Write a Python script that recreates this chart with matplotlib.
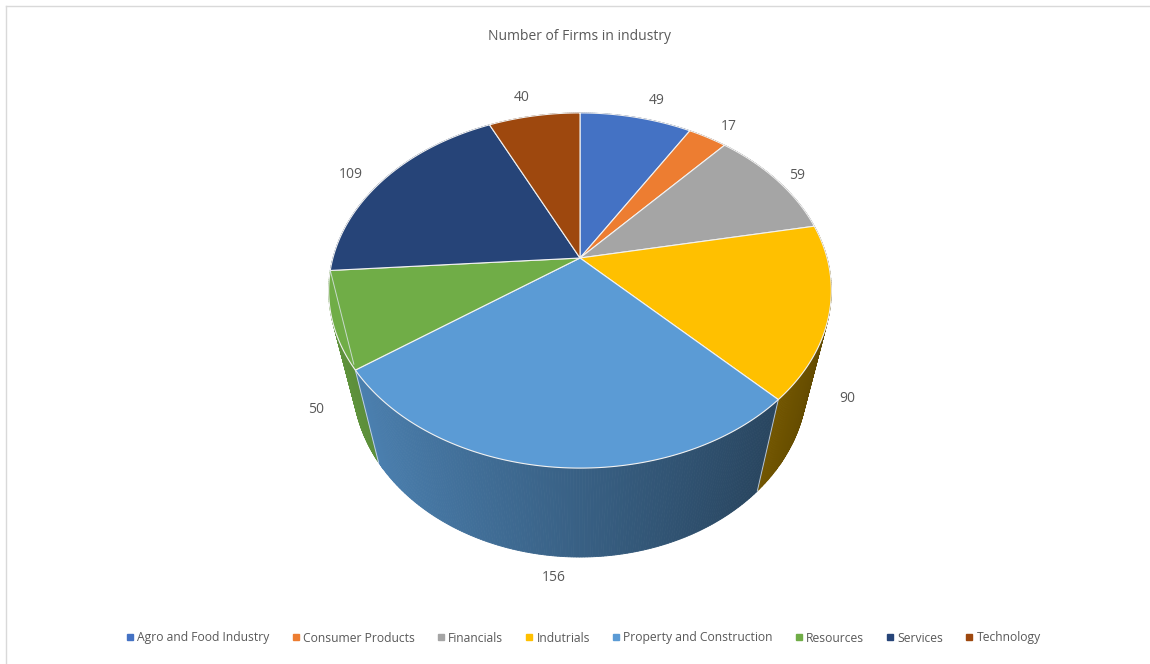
import numpy as np
import matplotlib
matplotlib.use("Agg")
import matplotlib.pyplot as plt
from matplotlib.patches import Polygon
from matplotlib.lines import Line2D
from matplotlib.colors import to_rgb

categories = ["Agro and Food Industry", "Consumer Products", "Financials", "Indutrials",
              "Property and Construction", "Resources", "Services", "Technology"]
values = [49, 17, 59, 90, 156, 50, 109, 40]
colors = ["#4472C4", "#ED7D31", "#A5A5A5", "#FFC000", "#5B9BD5", "#70AD47", "#264478", "#9E480E"]
title = "Number of Firms in industry"

# label nudges in pixels (style only)
label_offsets = [(21, -17), (21, -11), (20, -5), (42, -7), (-3, 21), (-41, -4), (-34, -4), (-12, -18)]

FONT = "Open Sans"

W, H = 1150, 664
fig = plt.figure(figsize=(W / 100, H / 100), dpi=100)
ax = fig.add_axes([0, 0, 1, 1])
ax.set_xlim(0, W)
ax.set_ylim(H, 0)
ax.axis("off")

# perspective camera model for a 3D pie
cx, cy = 580, 258
phi = np.deg2rad(44)
dist = 3.93
F = 971
hgt = 0.582


def proj(x, y, z):
    x = np.asarray(x, float); y = np.asarray(y, float); z = np.asarray(z, float)
    depth = dist + y * np.cos(phi) - z * np.sin(phi)
    xs = F * x / depth
    ys = F * (y * np.sin(phi) + z * np.cos(phi)) / depth
    return cx + xs, cy - ys


vals = np.array(values, float)
cum = np.concatenate([[0], np.cumsum(vals)]) / vals.sum() * 2 * np.pi


def shade(c, f):
    r, g, b = to_rgb(c)
    return (r * f, g * f, b * f)


# side walls (drawn first, back to front)
walls = []
for i in range(len(vals)):
    t0, t1 = cum[i], cum[i + 1]
    n = max(4, int((t1 - t0) / 0.01))
    ts = np.linspace(t0, t1, n + 1)
    for a, b in zip(ts[:-1], ts[1:]):
        m = (a + b) / 2
        walls.append((np.cos(m), a, b, colors[i]))
walls.sort(key=lambda w: -w[0])
for _, a, b, c in walls:
    xs = [np.sin(a), np.sin(b), np.sin(b), np.sin(a)]
    ys = [np.cos(a), np.cos(b), np.cos(b), np.cos(a)]
    zs = [0, 0, -hgt, -hgt]
    px, py = proj(xs, ys, zs)
    m = (a + b) / 2
    f = 0.62 - 0.25 * np.sin(m)
    col = shade(c, f)
    ax.add_patch(Polygon(np.c_[px, py], closed=True, fc=col, ec=col, lw=0.6))

# wall divider lines at slice boundaries in front
for t in cum[:-1]:
    if np.cos(t) < 0:
        px, py = proj([np.sin(t)] * 2, [np.cos(t)] * 2, [0, -hgt])
        ax.plot(px, py, color="#dfe6ee", lw=0.7, alpha=0.8)

# top faces
for i in range(len(vals)):
    ts = np.linspace(cum[i], cum[i + 1], 200)
    xs = np.concatenate([[0], np.sin(ts)])
    ys = np.concatenate([[0], np.cos(ts)])
    px, py = proj(xs, ys, np.zeros_like(xs))
    ax.add_patch(Polygon(np.c_[px, py], closed=True, fc=colors[i], ec="#f2f2f2", lw=0.8))

# data labels
for i in range(len(vals)):
    m = (cum[i] + cum[i + 1]) / 2
    z = -hgt if np.cos(m) < 0 else 0.0
    lx, ly = proj(np.sin(m), np.cos(m), z)
    ox, oy = label_offsets[i]
    ax.text(lx + ox, ly + oy, str(values[i]), ha="center", va="center", fontsize=10,
            color="#595959", family=FONT)

# title
ax.text(580, 37, title, ha="center", va="center", fontsize=10, color="#595959", family=FONT)

# border lines
ax.plot([6, 1150], [6, 6], color="#d9d9d9", lw=1)
ax.plot([6, 6], [6, 664], color="#d9d9d9", lw=1)

# legend
handles = [Line2D([0], [0], marker="s", linestyle="", markersize=4.5, markerfacecolor=c,
                  markeredgecolor=c) for c in colors]
leg = fig.legend(handles, categories, loc="center", bbox_to_anchor=(583 / W, 1 - 638 / H),
                 ncol=8, frameon=False, handletextpad=0.2, columnspacing=1.75, handlelength=0.8,
                 labelcolor="#595959", prop={"family": FONT, "size": 8.7})

fig.savefig("out.png", dpi=100)
